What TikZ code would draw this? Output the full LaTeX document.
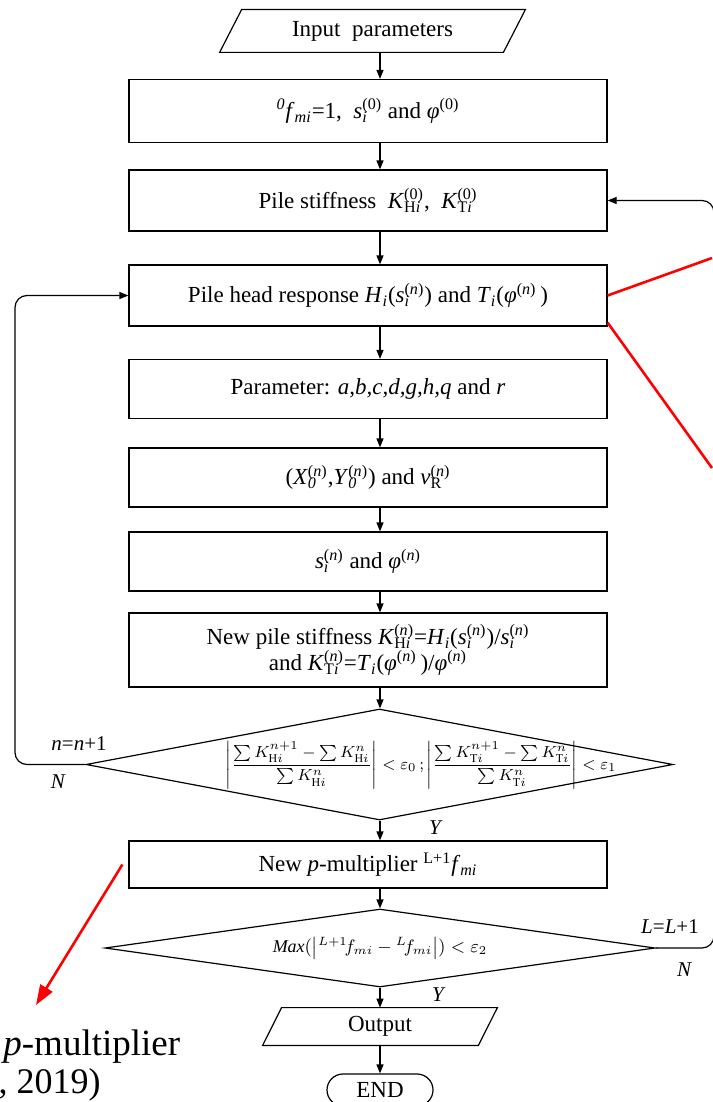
\documentclass[tikz,border=0pt]{standalone}
\usepackage{amsmath}
\usepackage{fontspec}
\setmainfont{Liberation Serif}
\usepackage{tikz}
\usetikzlibrary{arrows,arrows.meta,shapes,positioning}
\usepackage{xcolor}
\definecolor{flowred}{RGB}{255,0,0}
\newcommand{\subsup}[2]{\rlap{\textsubscript{#1}}\textsuperscript{#2}}
\tikzstyle{arrow} = [line width=0.6pt,->,>={Triangle[length=4.5pt,width=3.5pt]}]
\tikzstyle{redline} = [line width=1.3pt,color=flowred]
\tikzstyle{box} = [draw,line width=0.6pt,minimum width=239pt,inner sep=0pt,align=center]
\tikzstyle{io} = [inner sep=0pt]
\tikzstyle{decision} = [draw,line width=0.6pt,diamond,inner sep=0pt]
\tikzstyle{terminal} = [draw,line width=0.6pt,rounded rectangle,minimum width=53pt,minimum height=16pt,inner sep=0pt]
\tikzstyle{lbl} = [font=\fontsize{10.5}{12}\selectfont\itshape,inner sep=0pt]

\begin{document}
\begin{tikzpicture}[x=0.5pt,y=-0.5pt,font=\fontsize{11.5}{14}\selectfont]
\useasboundingbox (0,0) rectangle (712,1102);
\coordinate (axis) at (380,0);
\coordinate (lloop) at (15,0);
\coordinate (rloop) at (714,0);

% main flow
\node[io, minimum width=141.5pt, minimum height=21pt] (input) at (372.5,31) {Input\ \ parameters};
\node[box, minimum height=31.5pt] (init) at (368,111)
  {\textsuperscript{\textit{0}}\textit{f}\textsubscript{\textit{mi}}=1,\ \ \textit{s}\subsup{\textit{i}}{(0)} and \textit{φ}\textsuperscript{(0)}};
\node[box, minimum height=30.5pt] (stiff) at (368,200.5)
  {Pile stiffness\ \ \textit{K}\subsup{H\textit{i}}{(0)},\ \ \textit{K}\subsup{T\textit{i}}{(0)}};
\node[box, minimum height=30.5pt] (resp) at (368,295.5)
  {Pile head response \textit{H}\textsubscript{\textit{i}}(\textit{s}\subsup{\textit{i}}{(\textit{n})}) and \textit{T}\textsubscript{\textit{i}}(\textit{φ}\textsuperscript{(\textit{n})}\,)};
\node[box, minimum height=29.5pt] (param) at (368,389)
  {Parameter: \textit{a,b,c,d,g,h,q} and \textit{r}};
\node[box, minimum height=29.5pt] (centre) at (368,477.5)
  {(\textit{X}\subsup{\textit{0}}{(\textit{n})},\textit{Y}\subsup{\textit{0}}{(\textit{n})}) and \textit{v}\subsup{R}{(\textit{n})}};
\node[box, minimum height=29.5pt] (disp) at (368,561.5)
  {\textit{s}\subsup{\textit{i}}{(\textit{n})} and \textit{φ}\textsuperscript{(\textit{n})}};
\node[box, minimum height=37pt] (newk) at (368,650)
  {New pile stiffness \textit{K}\subsup{H\textit{i}}{(\textit{n})}=\textit{H}\textsubscript{\textit{i}}(\textit{s}\subsup{\textit{i}}{(\textit{n})})/\textit{s}\subsup{\textit{i}}{(\textit{n})}\\[-1pt]
   and \textit{K}\subsup{T\textit{i}}{(\textit{n})}=\textit{T}\textsubscript{\textit{i}}(\textit{φ}\textsuperscript{(\textit{n})}\,)/\textit{φ}\textsuperscript{(\textit{n})}};
\node[decision, minimum width=293.5pt, minimum height=55.5pt, aspect=5.3] (conv) at (379.5,764.5) {};
\node[inner sep=0pt, font=\fontsize{8}{10}\selectfont] (convtext) at (421,765)
  {$\left|\dfrac{\sum K^{n+1}_{\mathrm{H}i}-\sum K^{n}_{\mathrm{H}i}}{\sum K^{n}_{\mathrm{H}i}}\right|<\varepsilon_0\,;\left|\dfrac{\sum K^{n+1}_{\mathrm{T}i}-\sum K^{n}_{\mathrm{T}i}}{\sum K^{n}_{\mathrm{T}i}}\right|<\varepsilon_1$};
\node[box, minimum height=23.5pt] (mult) at (368,864.5)
  {New \textit{p}-multiplier \textsuperscript{L+1}\textit{f}\textsubscript{\textit{mi}}};
\node[decision, minimum width=275pt, minimum height=39pt, aspect=7, font=\fontsize{9}{11}\selectfont] (maxchk) at (380,948)
  {$\mathit{Max}(\left|{}^{L+1}\!f_{mi}-{}^{L}\!f_{mi}\right|)<\varepsilon_2$};
\node[io, minimum width=107.5pt, minimum height=18.5pt] (output) at (380,1026.5) {Output};
\node[terminal] (end) at (380,1090) {END};

% parallelogram outlines
\foreach \p/\s in {input/5.5pt,output/4.75pt}
  \draw[line width=0.6pt] ([xshift=-\s]\p.south west) -- ([xshift=\s]\p.north west)
    -- ([xshift=\s]\p.north east) -- ([xshift=-\s]\p.south east) -- cycle;

\foreach \a/\b in {input/init,init/stiff,stiff/resp,resp/param,param/centre,centre/disp,disp/newk,newk/conv,conv/mult,mult/maxchk,maxchk/output,output/end}
  \draw[arrow] (axis |- \a.south) -- (axis |- \b.north);

% loops
\draw[arrow, rounded corners=6pt] (conv.west) -- (conv.west -| lloop) -- (lloop |- resp.west) -- (resp.west);
\draw[arrow, rounded corners=6pt] (maxchk.east) -- (maxchk.east -| rloop) -- (rloop |- stiff.east) -- (stiff.east);
\node[lbl] (nplus) at (79,744) {n\textup{=}n\textup{+1}};
\node[lbl] (nno) at (58,782) {N};
\node[lbl] (nyes) at (435,828) {Y};
\node[lbl] (lplus) at (670,927) {L\textup{=}L\textup{+1}};
\node[lbl] (lno) at (684,970) {N};
\node[lbl] (lyes) at (438,995) {Y};

% red pointers
\coordinate (redA) at (712,258);
\coordinate (redB) at (712,468);
\coordinate (redC) at (36,1005);
\draw[redline] (resp.east) -- (redA);
\draw[redline] ([yshift=2pt]resp.south east) -- (redB);
\draw[redline, -{Triangle[length=10pt,width=7pt]}] ([xshift=-3pt]mult.west) -- (redC);
\node[anchor=base west, inner sep=0pt, font=\fontsize{18.5}{21}\selectfont] (pmult) at (3,1055) {\textit{p}-multiplier};
\node[anchor=base east, inner sep=0pt, font=\fontsize{18}{21}\selectfont] (pyear) at (101,1093) {, 2019)};
\end{tikzpicture}
\end{document}
